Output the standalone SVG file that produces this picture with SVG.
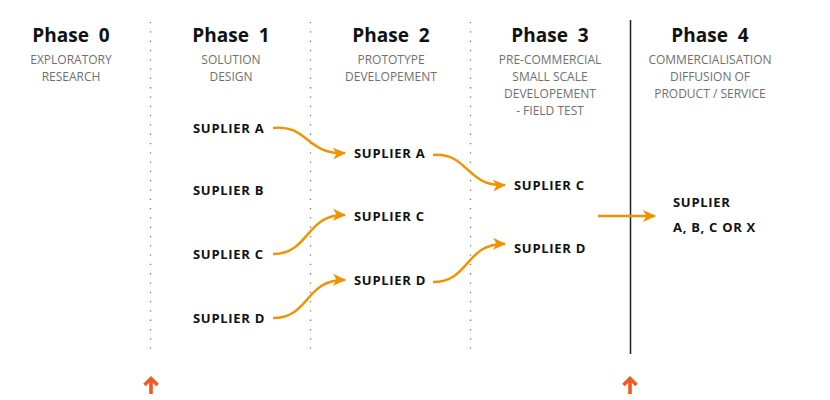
<svg xmlns="http://www.w3.org/2000/svg" width="830" height="400" viewBox="0 0 830 400">
<style>
.title{font-family:"Open Sans","Noto Sans",sans-serif;font-weight:700;font-size:19px;fill:#111;text-anchor:middle;white-space:pre}
.sub{font-family:"Open Sans","Noto Sans",sans-serif;font-weight:400;font-size:12px;fill:#707070;text-anchor:middle}
.sup{font-family:"Open Sans","Noto Sans",sans-serif;font-weight:700;font-size:13px;letter-spacing:0.7px;fill:#111}
.dot{stroke:#777;stroke-width:1.3;stroke-dasharray:1.3 8;fill:none}
.conn{stroke:#f39200;stroke-width:2.4;fill:none;marker-end:url(#ah)}
</style>
<defs>
<marker id="ah" markerUnits="userSpaceOnUse" markerWidth="15" markerHeight="13" refX="12" refY="6.5" orient="auto">
<path d="M0,0.5 L13,6.5 L0,12.5 L3.5,6.5 z" fill="#f39200"/>
</marker>
</defs>
<rect width="830" height="400" fill="#fff"/>
<g id="dividers">
<line class="dot" x1="150.5" y1="22" x2="150.5" y2="352"/>
<line class="dot" x1="310.5" y1="22" x2="310.5" y2="352"/>
<line class="dot" x1="470.5" y1="22" x2="470.5" y2="352"/>
<line x1="630.5" y1="20" x2="630.5" y2="354" stroke="#222" stroke-width="1.5"/>
</g>
<g id="phase0">
<text class="title" x="71" y="42" xml:space="preserve">Phase  0</text>
<text class="sub" x="71" y="64">EXPLORATORY</text>
<text class="sub" x="71" y="81">RESEARCH</text>
</g>
<g id="phase1">
<text class="title" x="231" y="42" xml:space="preserve">Phase  1</text>
<text class="sub" x="231" y="64">SOLUTION</text>
<text class="sub" x="231" y="81">DESIGN</text>
</g>
<g id="phase2">
<text class="title" x="391" y="42" xml:space="preserve">Phase  2</text>
<text class="sub" x="391" y="64">PROTOTYPE</text>
<text class="sub" x="391" y="81">DEVELOPEMENT</text>
</g>
<g id="phase3">
<text class="title" x="550" y="42" xml:space="preserve">Phase  3</text>
<text class="sub" x="550" y="64">PRE-COMMERCIAL</text>
<text class="sub" x="550" y="81">SMALL SCALE</text>
<text class="sub" x="550" y="98">DEVELOPEMENT</text>
<text class="sub" x="550" y="115">- FIELD TEST</text>
</g>
<g id="phase4">
<text class="title" x="710" y="42" xml:space="preserve">Phase  4</text>
<text class="sub" x="710" y="64">COMMERCIALISATION</text>
<text class="sub" x="710" y="81">DIFFUSION OF</text>
<text class="sub" x="710" y="98">PRODUCT / SERVICE</text>
</g>
<g id="p1-supA"><text class="sup" x="193" y="133">SUPLIER A</text></g>
<g id="p1-supB"><text class="sup" x="193" y="195">SUPLIER B</text></g>
<g id="p1-supC"><text class="sup" x="193" y="259">SUPLIER C</text></g>
<g id="p1-supD"><text class="sup" x="193" y="323">SUPLIER D</text></g>
<g id="p2-supA"><text class="sup" x="354" y="158">SUPLIER A</text></g>
<g id="p2-supC"><text class="sup" x="354" y="221">SUPLIER C</text></g>
<g id="p2-supD"><text class="sup" x="354" y="285">SUPLIER D</text></g>
<g id="p3-supC"><text class="sup" x="514" y="190">SUPLIER C</text></g>
<g id="p3-supD"><text class="sup" x="514" y="253">SUPLIER D</text></g>
<g id="p4-sup">
<text class="sup" x="673" y="207">SUPLIER</text>
<text class="sup" x="673" y="232">A, B, C OR X</text>
</g>
<g id="connectors">
<path class="conn" d="M273,128 C308,124 306,155 345,153"/>
<path class="conn" d="M433,155 C468,152 466,187 505,185"/>
<path class="conn" d="M273,254 C310,254 305,214 345,215"/>
<path class="conn" d="M273,318 C310,318 305,279 345,280"/>
<path class="conn" d="M433,282 C470,282 465,243 505,244"/>
<path class="conn" d="M598,216 L655,216"/>
<g fill="none" stroke="#f05a1e" stroke-width="3.6">
<path d="M151,394 V379 M144.5,385 L151,378.5 L157.5,385"/>
<path d="M630,394 V379 M623.5,385 L630,378.5 L636.5,385"/>
</g>
</g>
</svg>
